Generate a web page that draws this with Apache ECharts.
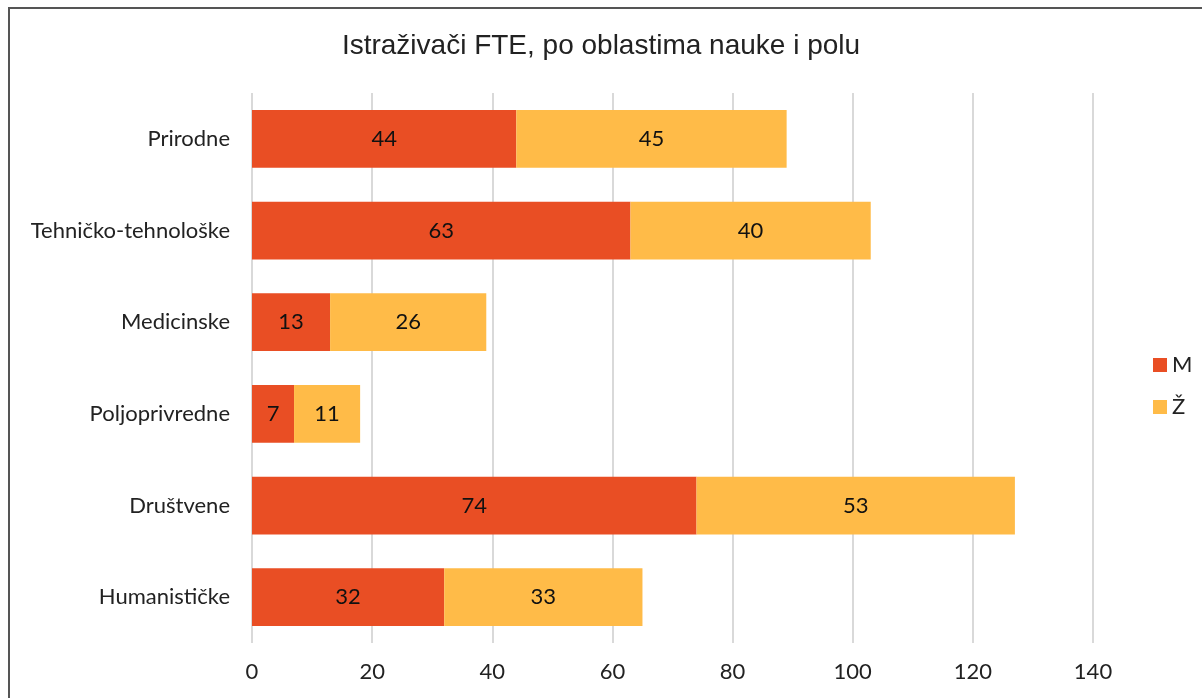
<!DOCTYPE html>
<html>
<head>
<meta charset="utf-8">
<script src="https://cdn.jsdelivr.net/npm/echarts@6/dist/echarts.min.js"></script>
<style>
  html, body { margin: 0; padding: 0; background: #fff; }
  #frame { position: absolute; left: 8px; top: 7px; width: 1200px; height: 700px; border-left: 2px solid #555; border-top: 2px solid #555; }
  #main { position: absolute; left: 0; top: 0; width: 1202px; height: 698px; }
</style>
</head>
<body>
<div id="frame"></div>
<div id="main"></div>
<script>
// oblasti nauke
const categories = ['Prirodne', 'Tehničko-tehnološke', 'Medicinske', 'Poljoprivredne', 'Društvene', 'Humanističke'];
// muškarci / žene
const valuesM = [44, 63, 13, 7, 74, 32];
const valuesZ = [45, 40, 26, 11, 53, 33];
const xTicks = [0, 20, 40, 60, 80, 100, 120, 140];

const labelFont = 'Lato, "Open Sans", sans-serif';

let myChart = echarts.init(document.getElementById('main'));
myChart.setOption({
  animation: false,
  title: {
    text: 'Istraživači FTE, po oblastima nauke i polu',
    left: 'center',
    top: 27,
    textStyle: { fontFamily: '"Liberation Sans", Arial, sans-serif', fontWeight: 'normal', fontSize: 28, color: '#222' }
  },
  legend: {
    orient: 'vertical',
    left: 1148,
    top: 349,
    itemGap: 20,
    itemWidth: 14,
    itemHeight: 14,
    icon: 'rect',
    textStyle: { fontFamily: labelFont, fontSize: 22, color: '#222', padding: [0, 0, 0, 0] },
    data: ['M', 'Ž']
  },
  grid: { left: 252, right: 109, top: 93, bottom: 55 },
  xAxis: {
    type: 'value',
    min: 0,
    max: 140,
    interval: 20,
    axisLine: { show: false },
    axisTick: { show: false },
    splitLine: { lineStyle: { color: '#d9d9d9', width: 2 } },
    axisLabel: {
      margin: 18,
      fontFamily: labelFont, fontSize: 22, color: '#222',
      formatter: function (v) { return xTicks.indexOf(v) >= 0 ? String(v) : ''; }
    }
  },
  yAxis: {
    type: 'category',
    inverse: true,
    data: categories,
    axisLine: { show: false },
    axisTick: { show: false },
    axisLabel: { margin: 22, fontFamily: labelFont, fontSize: 22, color: '#222' }
  },
  series: [{
    name: 'M',
    type: 'bar',
    stack: 'total',
    barWidth: '63%',
    itemStyle: { color: '#E94E24' },
    label: { show: true, position: 'inside', fontFamily: labelFont, fontSize: 22, color: '#111' },
    data: valuesM
  }, {
    name: 'Ž',
    type: 'bar',
    stack: 'total',
    barWidth: '63%',
    itemStyle: { color: '#FFBB48' },
    label: { show: true, position: 'inside', fontFamily: labelFont, fontSize: 22, color: '#111' },
    data: valuesZ
  }]
});
</script>
</body>
</html>
